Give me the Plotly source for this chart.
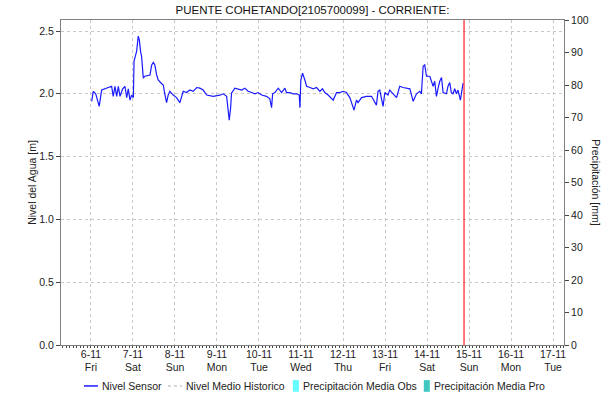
import plotly.graph_objects as go
import pandas as pd

# hours after 2020-11-06 00:00 and water level [m]
sensor_hours = [0.4, 1.3, 2.7, 4.7, 6.1, 8.0, 11.8, 12.7, 13.7, 14.7, 15.6, 16.6, 18.1, 19.4,
                20.4, 21.3, 22.3, 23.2, 24.2, 24.6, 26.1, 27.0, 27.6, 28.4, 28.9, 29.9, 30.8,
                33.7, 34.7, 35.6, 36.5, 37.5, 38.4, 40.4, 41.3, 42.3, 43.2, 44.1, 45.1, 47.0,
                48.9, 50.8, 52.7, 54.6, 56.5, 58.4, 60.4, 62.2, 64.1, 66.1, 69.8, 73.7, 75.6,
                77.5, 78.4, 79.0, 79.8, 80.3, 82.2, 84.1, 86.1, 87.9, 89.8, 91.8, 93.6, 95.5,
                97.5, 100.3, 102.2, 103.2, 103.8, 105.1, 107.0, 108.9, 110.8, 111.7, 113.6,
                115.5, 117.5, 119.0, 119.4, 119.9, 120.9, 122.2, 123.2, 125.1, 127.0, 128.9,
                130.8, 132.3, 133.6, 135.5, 138.4, 140.3, 142.2, 144.1, 146.0, 147.9, 148.9,
                150.3, 151.7, 152.6, 154.6, 157.4, 160.3, 162.1, 163.1, 164.0, 165.0, 166.9,
                167.9, 168.8, 169.7, 170.7, 172.6, 174.6, 176.4, 178.3, 182.2, 184.1, 186.0,
                187.9, 188.8, 189.8, 190.7, 191.7, 193.6, 195.5, 196.4, 197.4, 198.4, 199.3,
                200.3, 201.2, 203.1, 204.0, 205.0, 205.9, 206.9, 207.8, 208.8, 209.7, 211.1,
                211.7, 212.6]
sensor_level = [1.94, 2.02, 2.00, 1.90, 2.03, 2.04, 2.06, 1.98, 2.06, 1.98, 2.06, 1.98, 2.04, 2.06,
                1.97, 2.04, 1.95, 1.99, 1.97, 2.26, 2.34, 2.46, 2.43, 2.33, 2.30, 2.125, 2.14,
                2.15, 2.23, 2.25, 2.23, 2.15, 2.11, 2.08, 2.07, 1.99, 1.93, 1.99, 2.02, 1.99,
                1.97, 1.93, 2.02, 2.01, 2.03, 2.02, 2.05, 2.045, 2.03, 1.99, 1.98, 1.99, 2.00,
                1.98, 1.89, 1.79, 1.89, 2.005, 2.045, 2.04, 2.03, 2.045, 2.02, 2.01, 2.00, 2.01,
                1.99, 1.98, 1.96, 1.89, 2.00, 2.01, 2.045, 2.01, 2.045, 2.01, 2.01,
                2.00, 2.00, 1.99, 1.89, 2.11, 2.165, 2.11, 2.06, 2.05, 2.04, 2.05,
                2.02, 2.04, 2.01, 1.99, 1.95, 2.01, 2.01, 2.02, 2.01, 1.97, 1.93,
                1.87, 1.95, 1.93, 1.97, 1.98, 1.98, 1.94, 1.91, 2.02, 2.03, 1.90,
                2.01, 2.00, 1.99, 2.03, 2.00, 1.97, 2.06, 2.05, 2.04, 1.94, 2.00,
                2.02, 2.00, 2.22, 2.23, 2.14, 2.14, 2.06, 2.10, 1.98, 2.05, 2.10,
                2.13, 2.01, 2.00, 2.06, 2.09, 2.01, 2.00, 2.04, 2.00, 2.03, 1.95,
                2.01, 2.085]

# empty series (legend only)
hist_level = []
precip_obs = []
precip_pro = []

days = ['2020-11-%02d' % d for d in range(6, 18)]
day_labels = ['6-11<br>Fri', '7-11<br>Sat', '8-11<br>Sun', '9-11<br>Mon', '10-11<br>Tue',
              '11-11<br>Wed', '12-11<br>Thu', '13-11<br>Fri', '14-11<br>Sat', '15-11<br>Sun',
              '16-11<br>Mon', '17-11<br>Tue']
now_time = '2020-11-14 21:10'

start = pd.Timestamp('2020-11-06 00:00')
sensor_x = [start + pd.Timedelta(hours=h) for h in sensor_hours]

FONT = 'Liberation Sans, Arial, sans-serif'
GRID = '#c8c8c8'
FRAME = '#808080'

fig = go.Figure()
fig.add_scatter(x=sensor_x, y=sensor_level, mode='lines', name='Nivel Sensor',
                line=dict(color='#1a1aff', width=1.2), showlegend=False)
fig.add_scatter(x=[], y=hist_level, mode='lines', name='Nivel Medio Historico',
                line=dict(color='#c8c8c8', width=1, dash='dot'), showlegend=False)
fig.add_bar(x=[], y=precip_obs, name='Precipitación Media Obs', marker_color='#66ffff',
            yaxis='y2', showlegend=False)
fig.add_bar(x=[], y=precip_pro, name='Precipitación Media Pro', marker_color='#40c8c0',
            yaxis='y2', showlegend=False)

# current time marker
fig.add_shape(type='line', xref='x', yref='paper', x0=now_time, x1=now_time, y0=0, y1=1,
              line=dict(color='#ff2020', width=1.2))

fig.update_layout(
    width=615, height=400,
    margin=dict(l=61, r=51, t=20, b=55, autoexpand=False),
    paper_bgcolor='white', plot_bgcolor='white',
    font=dict(family=FONT, size=10.5, color='#222'),
    title=dict(text='PUENTE COHETANDO[2105700099] - CORRIENTE:', x=0.5, xref='paper',
               y=0.975, yanchor='middle', font=dict(size=11.5, color='#111'), automargin=False),
    showlegend=False,
    xaxis=dict(type='date', range=['2020-11-05 06:52', '2020-11-17 06:17'],
               tickvals=days, ticktext=day_labels, tickangle=0, automargin=False,
               showgrid=True, gridcolor=GRID, griddash='3px,3px', gridwidth=1,
               showline=True, linecolor=FRAME, mirror=True, ticks='outside', ticklen=2,
               tickcolor='#444', ticklabelstandoff=-3,
               minor=dict(dtick=2 * 3600 * 1000, ticks='outside', ticklen=2, tickcolor='#444',
                          showgrid=False),
               zeroline=False),
    yaxis=dict(range=[0, 2.5877], dtick=0.5, tickformat='.1f', automargin=False,
               showgrid=True, gridcolor=GRID, griddash='3px,3px', gridwidth=1,
               showline=True, linecolor=FRAME, ticks='outside', ticklen=4, tickcolor='#444',
               zeroline=False,
               title=dict(text='Nivel del Agua [m]', standoff=0, font=dict(size=10.5))),
    yaxis2=dict(range=[0, 100], dtick=10, overlaying='y', side='right', showgrid=False,
                automargin=False,
                showline=True, linecolor=FRAME, ticks='outside', ticklen=4, tickcolor='#444',
                zeroline=False),
)

fig.add_annotation(text='Precipitación [mm]', xref='paper', yref='paper', x=1.08, y=0.5,
                   textangle=90, showarrow=False, font=dict(size=10.5))

# hand-drawn legend row under the chart
ly = -0.126
legend_items = [
    ('line', '#1a1aff', None, 0.0457, 0.0735, 'Nivel Sensor'),
    ('line', '#c8c8c8', 'dot', 0.2126, 0.2404, 'Nivel Medio Historico'),
    ('rect', '#66ffff', None, 0.461, 0.473, 'Precipitación Media Obs'),
    ('rect', '#40c8c0', None, 0.7213, 0.7332, 'Precipitación Media Pro'),
]
for kind, color, dash, x0, x1, label in legend_items:
    if kind == 'line':
        fig.add_shape(type='line', xref='paper', yref='paper', x0=x0, x1=x1, y0=ly, y1=ly,
                      line=dict(color=color, width=1.5, dash=dash))
    else:
        fig.add_shape(type='rect', xref='paper', yref='paper', x0=x0, x1=x1,
                      y0=ly - 0.018, y1=ly + 0.018, fillcolor=color, line=dict(width=0))
    fig.add_annotation(text=label, xref='paper', yref='paper', x=x1 + 0.004, y=ly,
                       xanchor='left', yanchor='middle', showarrow=False,
                       font=dict(size=10.5, color='#222'))

# the page has a default 8px body margin; drop it so the chart sits at 0,0
fig.write_html('out.html', config={'displayModeBar': False},
               post_script="document.body.style.margin='0px';")
